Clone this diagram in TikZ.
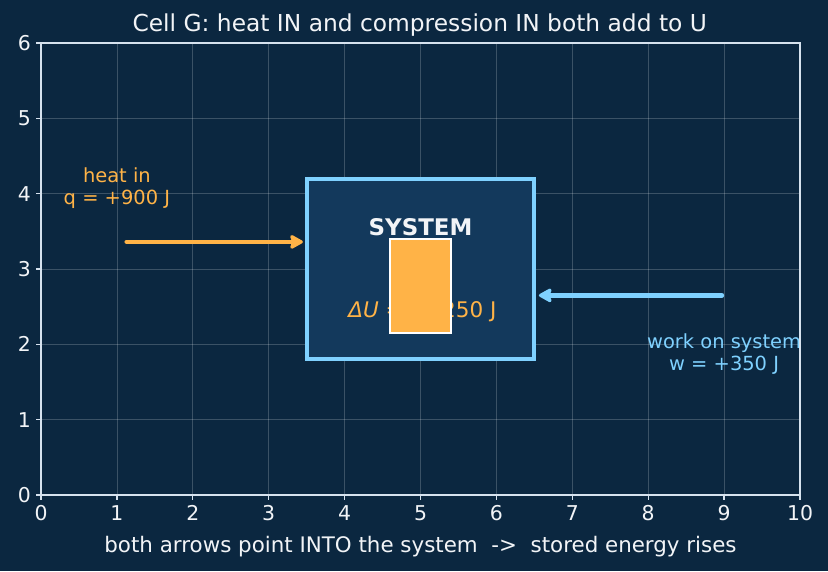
\documentclass[tikz,border=0pt]{standalone}
\usepackage{fontspec}
\setmainfont{DejaVu Sans}
\usetikzlibrary{arrows.meta}
\definecolor{bg}{HTML}{0B2740}
\definecolor{spine}{HTML}{D6E2EE}
\definecolor{heat}{HTML}{FFB347}
\definecolor{work}{HTML}{7FD1FF}
\definecolor{sysfill}{HTML}{13395C}
\definecolor{txt}{HTML}{F2F4F7}
\tikzset{
  gridline/.style={white, opacity=0.2, line width=0.5pt},
  spineline/.style={spine, line width=1.2pt},
  tick/.style={spine, line width=1pt},
  ticklabel/.style={txt, font=\fontsize{14.7}{17}\selectfont, inner sep=0pt},
  flowarrow/.style={line width=3.4pt, line cap=round, -{Stealth[length=11pt,width=12pt,inset=2pt,round]}},
  lbl/.style={inner sep=0pt, align=center, font=\fontsize{14}{16}\selectfont},
}
\begin{document}
\begin{tikzpicture}[x=54.648pt,y=54.238pt]
\fill[bg] (-0.5402,-1.0089) rectangle (10.3689,6.5711);
\useasboundingbox (-0.5402,-1.0089) rectangle (10.3689,6.5711);
% grid
\foreach \i in {1,...,9} \draw[gridline] (\i,0) -- (\i,6);
\foreach \j in {1,...,5} \draw[gridline] (0,\j) -- (10,\j);
% ticks and labels
\foreach \i in {0,...,10} {
  \draw[tick] (\i,0) -- (\i,-0.07);
  \node[ticklabel, anchor=north] (xt\i) at (\i,-0.14) {\i};
}
\foreach \j in {0,...,6} {
  \draw[tick] (0,\j) -- (-0.07,\j);
  \node[ticklabel, anchor=east] (yt\j) at (-0.13,\j) {\j};
}
% system box
\node[draw=work, line width=3pt, fill=sysfill, minimum width=3*54.648pt, minimum height=2.4*54.238pt, inner sep=0pt] (sys) at (5,3) {};
\node[lbl, txt, font=\fontsize{16.5}{18}\selectfont\bfseries] (systxt) at (5,3.56) {SYSTEM};
\node[lbl, heat, font=\fontsize{15.5}{17}\selectfont] (du) at (5.025,2.44) {\textit{ΔU} = +1250 J};
\node[draw=white, line width=1.2pt, fill=heat, minimum width=0.8*54.648pt, minimum height=1.25*54.238pt, inner sep=0pt] (store) at (5,2.775) {};
% arrows
\coordinate (hs) at (1.13,3.36);
\coordinate (he) at (3.45,3.36);
\draw[flowarrow, heat] (hs) -- (he);
\coordinate (ws) at (8.97,2.65);
\coordinate (we) at (6.56,2.65);
\draw[flowarrow, work] (ws) -- (we);
% labels
\node[lbl, heat] (heatlbl) at (1.0,4.07) {heat in\\q = +900 J};
\node[lbl, work] (worklbl) at (9.0,1.87) {work on system\\w = +350 J};
% spines
\draw[spineline] (0,0) rectangle (10,6);
% title and axis label
\node[txt, inner sep=0pt, font=\fontsize{16.8}{19}\selectfont] (title) at (4.99,6.24) {Cell G: heat IN and compression IN both add to U};
\node[txt, inner sep=0pt, font=\fontsize{15.4}{17}\selectfont] (xlabel) at (5,-0.69) {both arrows point INTO the system\ \ ->\ \ stored energy rises};
\end{tikzpicture}
\end{document}
